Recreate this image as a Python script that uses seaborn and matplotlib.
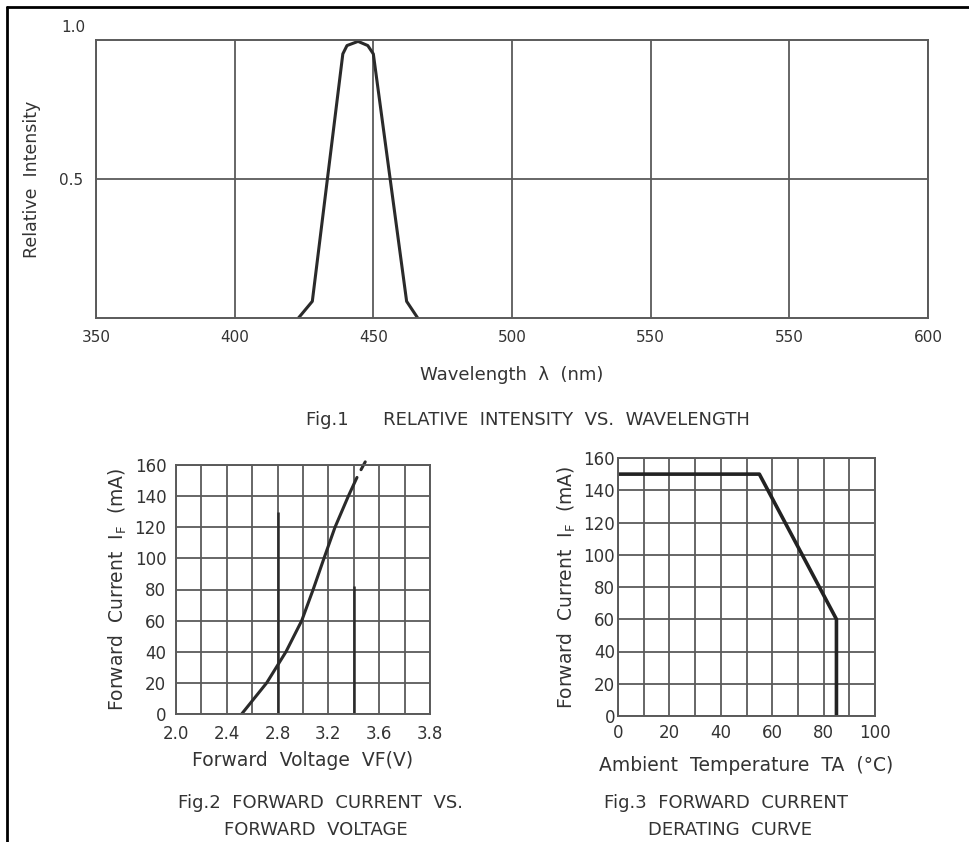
import matplotlib
matplotlib.use("Agg")
import matplotlib.pyplot as plt
from matplotlib.lines import Line2D
import seaborn as sns

# Fig.1 relative intensity vs wavelength
wavelength = [423, 428, 439, 440.5, 444.5, 448, 450, 462, 466]
intensity = [0.0, 0.06, 0.95, 0.98, 0.995, 0.98, 0.95, 0.06, 0.0]
wl_ticks = [350, 400, 450, 500, 550, 600, 650]
wl_labels = ['350', '400', '450', '500', '550', '550', '600']

# Fig.2 forward current vs forward voltage
vf = [2.517, 2.714, 2.866, 2.99, 3.08, 3.165, 3.252, 3.357, 3.425]
i_f = [0, 20, 40, 60, 80, 100, 120, 140, 152]
vf_tail = [3.457, 3.49]
if_tail = [157, 162]
vf_labels = ['2.0', '2.4', '2.8', '3.2', '3.6', '3.8']
marker_vf = [2.8, 3.4]
marker_top = [130, 82]

# Fig.3 derating curve
ta = [0, 55, 85, 85]
if_max = [150, 150, 60, 0]
cur_ticks = list(range(0, 161, 20))

W, H = 969, 842
GRID = '#5a5a5a'
TXT = '#333333'

sns.set_theme(style='white')
plt.rcParams['font.family'] = ['DejaVu Sans']

fig = plt.figure(figsize=(W / 100, H / 100), dpi=100)


def box(l, r, t, b):
    return [l / W, 1 - b / H, (r - l) / W, (b - t) / H]


def style(ax):
    for s in ax.spines.values():
        s.set_color(GRID)
        s.set_linewidth(1.4)
    ax.grid(True, color=GRID, linewidth=1.3)
    ax.tick_params(length=0, colors=TXT)


# ---- Fig.1
ax1 = fig.add_axes(box(96, 928, 40, 318))
sns.lineplot(x=wavelength, y=intensity, ax=ax1, sort=False, estimator=None,
             color='#2a2a2a', linewidth=2.2)
ax1.set_xlim(350, 650)
ax1.set_ylim(0, 1.0)
ax1.set_xticks(wl_ticks)
ax1.set_xticklabels(wl_labels, fontsize=11)
ax1.set_yticks([0.5])
ax1.set_yticklabels(['0.5'], fontsize=11)
style(ax1)
ax1.tick_params(axis='x', pad=9)
ax1.tick_params(axis='y', pad=9)
ax1.annotate('1.0', xy=(0, 1), xycoords='axes fraction', xytext=(-11, 13),
             textcoords='offset pixels', ha='right', va='center',
             fontsize=11, color=TXT)
ax1.set_ylabel('Relative  Intensity', fontsize=12.5, color=TXT, labelpad=13)
ax1.set_xlabel('Wavelength  λ  (nm)', fontsize=13, color=TXT, labelpad=15)
fig.text(528 / W, 1 - 420 / H, 'Fig.1      RELATIVE  INTENSITY  VS.  WAVELENGTH',
         ha='center', va='center', fontsize=13, color=TXT)

# ---- Fig.2
ax2 = fig.add_axes(box(176, 430, 465, 714))
sns.lineplot(x=vf, y=i_f, ax=ax2, sort=False, estimator=None,
             color='#2a2a2a', linewidth=2.2)
ax2.plot(vf_tail, if_tail, color='#2a2a2a', linewidth=2.2, clip_on=False)
ax2.vlines(marker_vf, 0, marker_top, color='#2a2a2a', linewidth=1.8)
ax2.set_xlim(2.0, 4.0)
ax2.set_ylim(0, 160)
ax2.set_xticks([2.0 + 0.2 * k for k in range(11)])
ax2.set_xticklabels([vf_labels[k // 2] if k % 2 == 0 else '' for k in range(11)],
                    fontsize=12)
ax2.set_yticks(cur_ticks)
ax2.set_yticklabels([str(v) for v in cur_ticks], fontsize=12)
style(ax2)
ax2.tick_params(axis='x', pad=8)
ax2.tick_params(axis='y', pad=7)
ax2.set_xlabel('Forward  Voltage  VF(V)', fontsize=13.5, color=TXT, labelpad=6)
ax2.set_ylabel(r'Forward  Current  $\mathregular{I_F}$  (mA)', fontsize=13.5,
               color=TXT, labelpad=4)
fig.text(320 / W, 1 - 803 / H, 'Fig.2  FORWARD  CURRENT  VS.', ha='center',
         va='center', fontsize=13, color=TXT)
fig.text(316 / W, 1 - 830 / H, 'FORWARD  VOLTAGE', ha='center',
         va='center', fontsize=13, color=TXT)

# ---- Fig.3
ax3 = fig.add_axes(box(618, 875, 458, 716))
sns.lineplot(x=ta, y=if_max, ax=ax3, sort=False, estimator=None,
             color='#222222', linewidth=2.6)
ax3.set_xlim(0, 100)
ax3.set_ylim(0, 160)
ax3.set_xticks(list(range(0, 101, 10)))
ax3.set_xticklabels([str(v) if v % 20 == 0 else '' for v in range(0, 101, 10)],
                    fontsize=12)
ax3.set_yticks(cur_ticks)
ax3.set_yticklabels([str(v) for v in cur_ticks], fontsize=12)
style(ax3)
ax3.tick_params(axis='x', pad=6)
ax3.tick_params(axis='y', pad=2)
ax3.set_xlabel('Ambient  Temperature  TA  (°C)', fontsize=13.5, color=TXT,
               labelpad=10)
ax3.set_ylabel(r'Forward  Current  $\mathregular{I_F}$  (mA)', fontsize=13.5,
               color=TXT, labelpad=4)
fig.text(726 / W, 1 - 803 / H, 'Fig.3  FORWARD  CURRENT', ha='center',
         va='center', fontsize=13, color=TXT)
fig.text(730 / W, 1 - 830 / H, 'DERATING  CURVE', ha='center',
         va='center', fontsize=13, color=TXT)

# outer frame (top and left edge)
fig.add_artist(Line2D([7 / W, 1], [1 - 7 / H, 1 - 7 / H], color='black',
                      linewidth=2, transform=fig.transFigure))
fig.add_artist(Line2D([7 / W, 7 / W], [0, 1 - 7 / H], color='black',
                      linewidth=2, transform=fig.transFigure))

fig.savefig('out.png', dpi=100, facecolor='white')
